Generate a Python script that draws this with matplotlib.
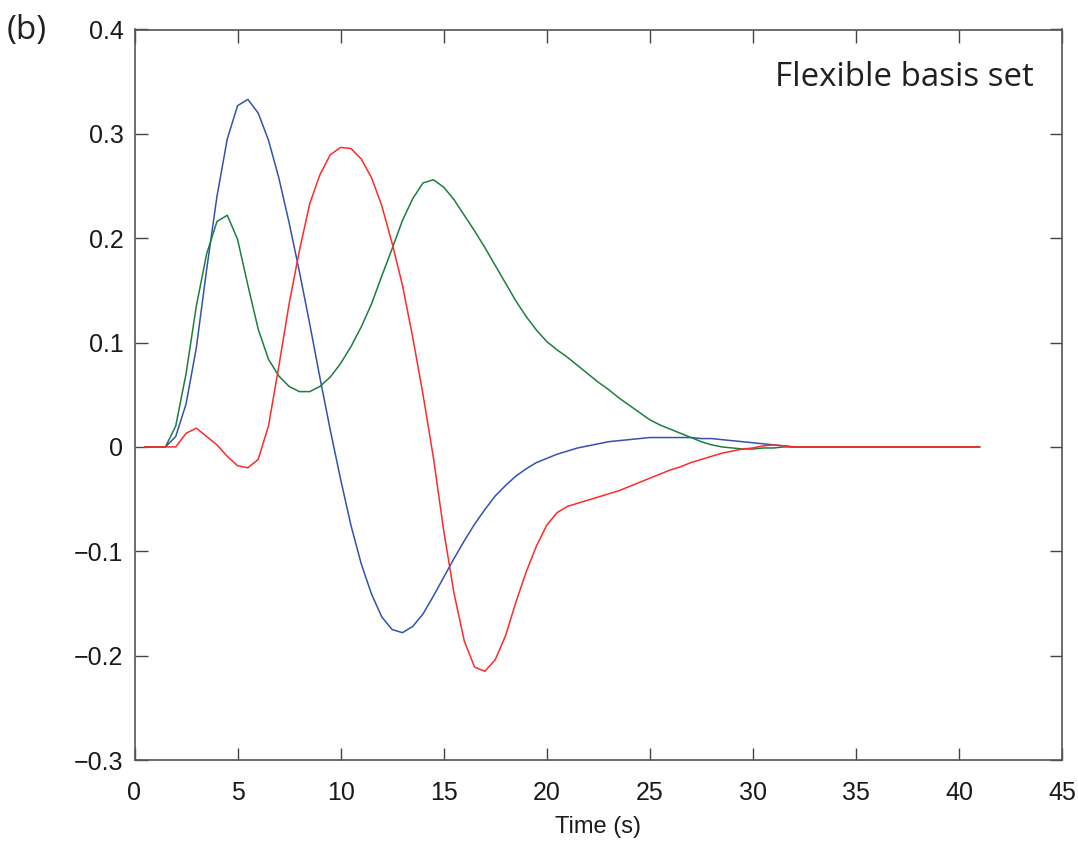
import matplotlib
matplotlib.use("Agg")
import matplotlib.pyplot as plt
from matplotlib.font_manager import fontManager

time_s = [0.5 * k for k in range(1, 83)]

blue_vals = [
    0.000, 0.000, 0.000, 0.010, 0.041, 0.095, 0.170, 0.240, 0.295, 0.327,
    0.333, 0.320, 0.294, 0.258, 0.215, 0.168, 0.118, 0.066, 0.016, -0.031,
    -0.075, -0.112, -0.141, -0.163, -0.175, -0.178, -0.172, -0.160, -0.143, -0.125,
    -0.107, -0.090, -0.074, -0.060, -0.047, -0.037, -0.028, -0.021, -0.015, -0.011,
    -0.007, -0.004, -0.001, 0.001, 0.003, 0.005, 0.006, 0.007, 0.008, 0.009,
    0.009, 0.009, 0.009, 0.009, 0.008, 0.008, 0.007, 0.006, 0.005, 0.004,
    0.003, 0.002, 0.001, 0.000, 0.000, 0.000, 0.000, 0.000, 0.000, 0.000,
    0.000, 0.000, 0.000, 0.000, 0.000, 0.000, 0.000, 0.000, 0.000, 0.000,
    0.000, 0.000,
]

green_vals = [
    0.000, 0.000, 0.000, 0.020, 0.070, 0.135, 0.185, 0.216, 0.222, 0.199,
    0.155, 0.113, 0.084, 0.068, 0.058, 0.053, 0.053, 0.058, 0.067, 0.080,
    0.096, 0.115, 0.137, 0.164, 0.190, 0.217, 0.238, 0.253, 0.256, 0.249,
    0.237, 0.222, 0.207, 0.191, 0.174, 0.157, 0.140, 0.125, 0.112, 0.101,
    0.093, 0.086, 0.078, 0.070, 0.062, 0.055, 0.047, 0.040, 0.033, 0.026,
    0.021, 0.017, 0.013, 0.009, 0.005, 0.002, 0.000, -0.001, -0.002, -0.002,
    -0.001, -0.001, 0.000, 0.000, 0.000, 0.000, 0.000, 0.000, 0.000, 0.000,
    0.000, 0.000, 0.000, 0.000, 0.000, 0.000, 0.000, 0.000, 0.000, 0.000,
    0.000, 0.000,
]

red_vals = [
    0.000, 0.000, 0.000, 0.000, 0.013, 0.018, 0.010, 0.002, -0.009, -0.018,
    -0.020, -0.012, 0.020, 0.077, 0.137, 0.188, 0.233, 0.261, 0.280, 0.287,
    0.286, 0.276, 0.258, 0.231, 0.195, 0.155, 0.105, 0.050, -0.010, -0.080,
    -0.140, -0.186, -0.211, -0.215, -0.204, -0.181, -0.149, -0.120, -0.095, -0.075,
    -0.063, -0.057, -0.054, -0.051, -0.048, -0.045, -0.042, -0.038, -0.034, -0.030,
    -0.026, -0.022, -0.019, -0.015, -0.012, -0.009, -0.006, -0.004, -0.002, -0.001,
    0.001, 0.002, 0.001, 0.000, 0.000, 0.000, 0.000, 0.000, 0.000, 0.000,
    0.000, 0.000, 0.000, 0.000, 0.000, 0.000, 0.000, 0.000, 0.000, 0.000,
    0.000, 0.000,
]

x_ticks = [0, 5, 10, 15, 20, 25, 30, 35, 40, 45]
y_ticks = [-0.3, -0.2, -0.1, 0, 0.1, 0.2, 0.3, 0.4]
y_tick_labels = ["\u22120.3", "\u22120.2", "\u22120.1", "0", "0.1", "0.2", "0.3", "0.4"]

available = {f.name for f in fontManager.ttflist}
tick_family = [f for f in ["Liberation Sans Narrow", "Liberation Sans", "DejaVu Sans"] if f in available]
label_family = [f for f in ["Open Sans", "Noto Sans", "DejaVu Sans"] if f in available]

fig = plt.figure(figsize=(10.78, 8.42), dpi=100)
ax = fig.add_axes([134.5 / 1078, 1 - 760 / 842, (1062 - 134.5) / 1078, (760 - 29.5) / 842])

ax.plot(time_s, blue_vals, color="#3352B0", lw=1.1)
ax.plot(time_s, green_vals, color="#1C7F3E", lw=1.1)
ax.plot(time_s, red_vals, color="#FF2A2A", lw=1.1)

ax.set_xlim(0, 45)
ax.set_ylim(-0.3, 0.4)
ax.set_xticks(x_ticks)
ax.set_xticklabels([str(v) for v in x_ticks], family=tick_family, fontsize=18)
ax.set_yticks(y_ticks)
ax.set_yticklabels(y_tick_labels, family=tick_family, fontsize=18)
ax.tick_params(direction="in", length=9, width=1.0, color="#444444",
               top=True, right=True, labelcolor="#1a1a1a")
ax.tick_params(axis="y", pad=8)
ax.tick_params(axis="x", pad=15)
for sp in ax.spines.values():
    sp.set_color("#555555")
    sp.set_linewidth(1.2)

ax.set_xlabel("Time (s)", family=tick_family, fontsize=17, color="#1a1a1a", labelpad=8)

fig.text(775 / 1078, 1 - 78 / 842, "Flexible basis set", family=label_family,
         fontsize=23.8, color="#231f20", ha="left", va="center")
fig.text(7 / 1078, 1 - 30 / 842, "(b)", family=label_family,
         fontsize=24, color="#231f20", ha="left", va="center")

fig.savefig("out.png", dpi=100)
